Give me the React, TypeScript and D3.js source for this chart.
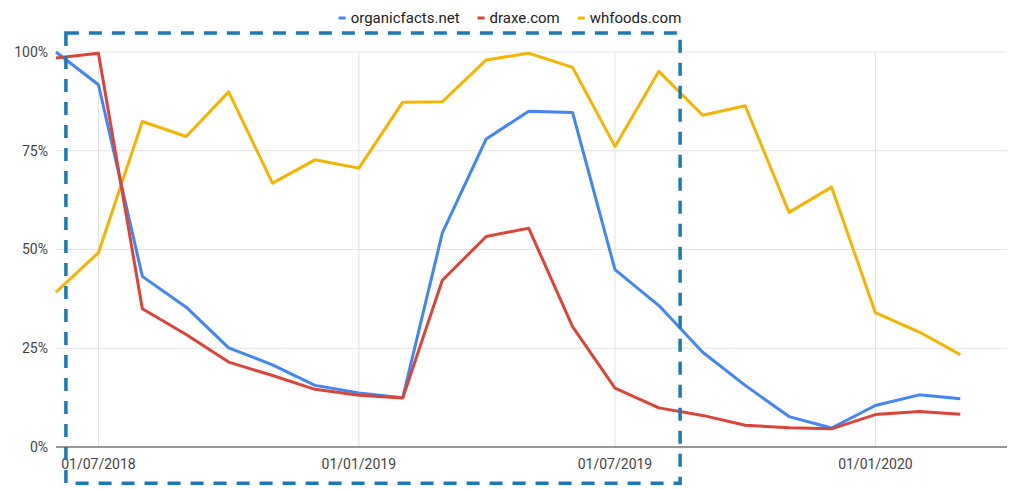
import { useEffect, useRef } from 'react'
import * as d3 from 'd3'

// monthly data points, first of each month
const months = [
  '2018-06-01', '2018-07-01', '2018-08-01', '2018-09-01', '2018-10-01', '2018-11-01',
  '2018-12-01', '2019-01-01', '2019-02-01', '2019-03-01', '2019-04-01', '2019-05-01',
  '2019-06-01', '2019-07-01', '2019-08-01', '2019-09-01', '2019-10-01', '2019-11-01',
  '2019-12-01', '2020-01-01', '2020-02-01', '2020-03-01',
]

const organicfacts = [
  1.0, 0.917, 0.432, 0.354, 0.251, 0.208, 0.156, 0.137, 0.125, 0.542, 0.78, 0.85,
  0.847, 0.449, 0.358, 0.24, 0.156, 0.077, 0.048, 0.105, 0.132, 0.122,
]

const draxe = [
  0.985, 0.997, 0.35, 0.285, 0.215, 0.181, 0.146, 0.131, 0.124, 0.422, 0.533, 0.554,
  0.305, 0.149, 0.099, 0.08, 0.055, 0.049, 0.046, 0.082, 0.09, 0.083,
]

const whfoods = [
  0.392, 0.492, 0.824, 0.786, 0.899, 0.668, 0.727, 0.706, 0.873, 0.874, 0.98, 0.997,
  0.961, 0.761, 0.951, 0.84, 0.864, 0.594, 0.658, 0.34, 0.291, 0.234,
]

const seriesNames = ['organicfacts.net', 'draxe.com', 'whfoods.com']
const seriesColors = ['#4285f4', '#db4437', '#f4b400']

const yTicks = [0, 0.25, 0.5, 0.75, 1]
const xTicks = ['2018-07-01', '2019-01-01', '2019-07-01', '2020-01-01']

// dashed highlight box (date span and value span)
const highlightDates = ['2018-06-08', '2019-08-16']
const highlightValues = [1.048, -0.092]

export default function App() {
  const svgRef = useRef<SVGSVGElement>(null)

  useEffect(() => {
    if (!svgRef.current) return
    const svg = d3.select(svgRef.current)
    svg.selectAll('*').remove()

    const width = 1024
    const parse = d3.utcParse('%Y-%m-%d')
    const fmt = d3.utcFormat('%d/%m/%Y')

    const x = d3.scaleUtc()
      .domain([parse('2018-06-01')!, parse('2020-04-03')!])
      .range([56, 1007])

    const y = d3.scaleLinear()
      .domain([0, 1])
      .range([447, 52])

    const font = 'Roboto, Arial, sans-serif'

    // horizontal grid
    svg.append('g')
      .selectAll('line')
      .data(yTicks.filter(d => d > 0))
      .join('line')
      .attr('x1', x.range()[0])
      .attr('x2', x.range()[1])
      .attr('y1', d => y(d))
      .attr('y2', d => y(d))
      .attr('stroke', '#e3e3e3')
      .attr('stroke-width', 1)

    // vertical grid
    svg.append('g')
      .selectAll('line')
      .data(xTicks)
      .join('line')
      .attr('x1', d => x(parse(d)!))
      .attr('x2', d => x(parse(d)!))
      .attr('y1', y(1))
      .attr('y2', y(0))
      .attr('stroke', '#e3e3e3')
      .attr('stroke-width', 1)

    // baseline
    svg.append('line')
      .attr('x1', x.range()[0])
      .attr('x2', x.range()[1])
      .attr('y1', y(0))
      .attr('y2', y(0))
      .attr('stroke', '#333')
      .attr('stroke-width', 1)

    // y labels
    svg.append('g')
      .selectAll('text')
      .data(yTicks)
      .join('text')
      .attr('x', 48)
      .attr('y', d => y(d))
      .attr('dy', '0.35em')
      .attr('text-anchor', 'end')
      .attr('font-family', font)
      .attr('font-size', 14)
      .attr('fill', '#444')
      .text(d => `${Math.round(d * 100)}%`)

    // x labels
    svg.append('g')
      .selectAll('text')
      .data(xTicks)
      .join('text')
      .attr('x', d => x(parse(d)!))
      .attr('y', y(0) + 22)
      .attr('text-anchor', 'middle')
      .attr('font-family', font)
      .attr('font-size', 14)
      .attr('fill', '#444')
      .text(d => fmt(parse(d)!))

    // lines
    const dates = months.map(d => parse(d)!)
    const line = d3.line<number>()
      .x((d, i) => x(dates[i]))
      .y(d => y(d))

    const allSeries = [organicfacts, draxe, whfoods]
    const drawOrder = [2, 0, 1]
    drawOrder.forEach(i => {
      svg.append('path')
        .datum(allSeries[i])
        .attr('fill', 'none')
        .attr('stroke', seriesColors[i])
        .attr('stroke-width', 3)
        .attr('stroke-linejoin', 'round')
        .attr('d', line)
    })

    // legend, centred
    const legend = svg.append('g')
    let offset = 0
    seriesNames.forEach((name, i) => {
      const item = legend.append('g').attr('transform', `translate(${offset},0)`)
      item.append('rect')
        .attr('x', 0)
        .attr('y', 16.5)
        .attr('width', 7)
        .attr('height', 3)
        .attr('fill', seriesColors[i])
      const t = item.append('text')
        .attr('x', 12)
        .attr('y', 23)
        .attr('font-family', font)
        .attr('font-size', 15)
        .attr('fill', '#222')
        .text(name)
      const w = (t.node() as SVGTextElement).getComputedTextLength()
      offset += 12 + w + 18
    })
    const legendWidth = offset - 18
    legend.attr('transform', `translate(${510 - legendWidth / 2},0)`)

    // dashed highlight rectangle
    const hx0 = x(parse(highlightDates[0])!)
    const hx1 = x(parse(highlightDates[1])!)
    const hy0 = y(highlightValues[0])
    const hy1 = y(highlightValues[1])
    svg.append('rect')
      .attr('x', hx0)
      .attr('y', hy0)
      .attr('width', hx1 - hx0)
      .attr('height', hy1 - hy0)
      .attr('fill', 'none')
      .attr('stroke', '#1b7ab5')
      .attr('stroke-width', 3.5)
      .attr('stroke-dasharray', '13 10')

    svg.attr('viewBox', `0 0 ${width} 489`)
  }, [])

  return (
    <svg
      ref={svgRef}
      width={1024}
      height={489}
      style={{ position: 'absolute', left: 0, top: 0, background: '#fff', display: 'block' }}
    />
  )
}
